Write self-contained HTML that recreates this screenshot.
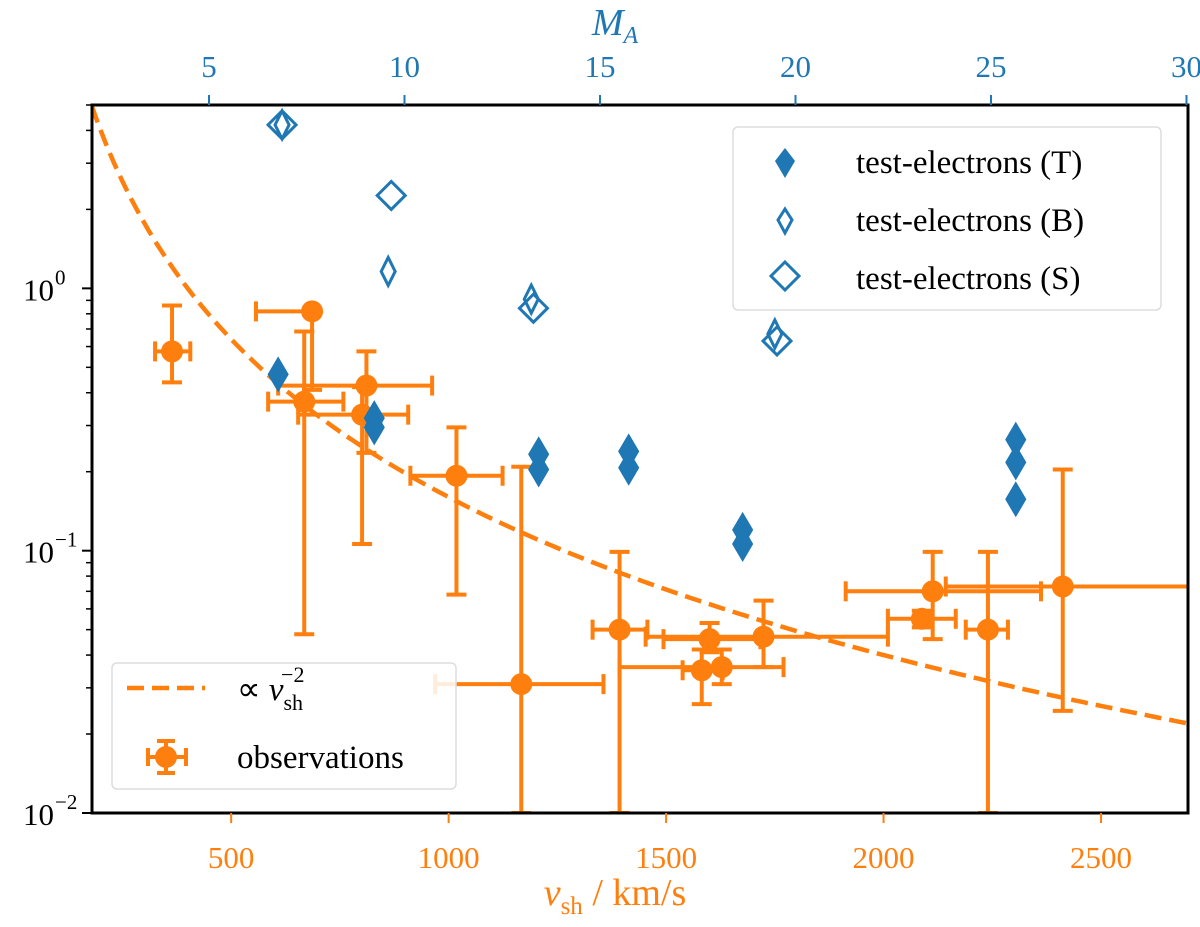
<!DOCTYPE html>
<html><head><meta charset="utf-8"><style>
body{margin:0;background:#fff}
svg text{font-family:"Liberation Serif",serif}
</style></head><body>
<svg id="chart" width="1200" height="922" xmlns="http://www.w3.org/2000/svg">
<rect width="1200" height="922" fill="#fff"/>
<g id="marks"></g>
<g id="axes"></g>
</svg>
<script>
const obsV   = [364,686,668,811,801,1018,1167,1393,1600,1724,1582,1628,2088,2113,2240,2412];
const obsY   = [0.575,0.817,0.37,0.426,0.33,0.193,0.031,0.050,0.046,0.047,0.035,0.036,0.055,0.070,0.050,0.073];
const obsXlo = [325,557,585,608,654,912,969,1331,1494,1453,1538,1393,2010,1913,2189,2143];
const obsXhi = [406,686,758,962,907,1124,1356,1457,1717,2010,1630,1770,2166,2362,2286,2750];
const obsYlo = [0.438,0.41,0.048,0.236,0.106,0.068,0.01,0.01,0.041,0.036,0.026,0.031,0.051,0.046,0.01,0.0245];
const obsYhi = [0.86,0.817,0.685,0.575,0.42,0.295,0.209,0.099,0.053,0.0645,0.042,0.042,0.059,0.099,0.099,0.204];
const tV = [608,829,829,1207,1207,1414,1414,1676,1676,2304,2304,2304];
const tY = [0.47,0.32,0.295,0.233,0.204,0.239,0.207,0.12,0.106,0.265,0.217,0.157];
const bV = [617,861,1190,1750];
const bY = [4.2,1.16,0.91,0.67];
const sV = [617,868,1195,1755];
const sY = [4.2,2.26,0.84,0.63];
const fitC = 160000;
const xTicks = [500,1000,1500,2000,2500];
const topTicks = [5,10,15,20,25,30];
const yDecades = [0,-1,-2];

const L=92,R=1188,T=105,B=813, XMIN=180,XMAX=2700, LMIN=-2, LMAX=Math.log10(5);
const sx=v=>L+(v-XMIN)/(XMAX-XMIN)*(R-L);
const sy=y=>B-(Math.log10(y)-LMIN)/(LMAX-LMIN)*(B-T);
const sm=m=>209+(m-5)*39.1;
const NS="http://www.w3.org/2000/svg";
const marks=document.getElementById('marks'), axes=document.getElementById('axes');
function mk(tag,attrs,parent){const e=document.createElementNS(NS,tag);for(const k in attrs)e.setAttribute(k,attrs[k]);parent.appendChild(e);return e;}
const OR="#ff7f0e", BL="#1f77b4";
const clip=mk('clipPath',{id:'pc'},marks);mk('rect',{x:L,y:T,width:R-L,height:B-T},clip);
const g=mk('g',{'clip-path':'url(#pc)'},marks);

let d='';for(let v=XMIN;v<=XMAX;v+=10){d+=(d?'L':'M')+sx(v).toFixed(1)+','+sy(fitC/(v*v)).toFixed(1);}
const fit=mk('path',{d:d,fill:'none',stroke:OR,'stroke-width':4.5,'stroke-dasharray':'17,8'},g);



obsV.forEach((v,i)=>{
 const og=mk('g',{},g);
 
 
 const x=sx(v),y=sy(obsY[i]);
 const x1=sx(obsXlo[i]),x2=sx(obsXhi[i]),y1=sy(obsYlo[i]),y2=sy(obsYhi[i]);
 const st={stroke:OR,'stroke-width':4};
 mk('line',Object.assign({x1:x1,x2:x2,y1:y,y2:y},st),og);
 mk('line',Object.assign({x1:x,x2:x,y1:y1,y2:y2},st),og);
 mk('line',Object.assign({x1:x1,x2:x1,y1:y-10,y2:y+10},st),og);
 mk('line',Object.assign({x1:x2,x2:x2,y1:y-10,y2:y+10},st),og);
 mk('line',Object.assign({x1:x-10,x2:x+10,y1:y1,y2:y1},st),og);
 mk('line',Object.assign({x1:x-10,x2:x+10,y1:y2,y2:y2},st),og);
 mk('circle',{cx:x,cy:y,r:11,fill:OR},og);
});
function diamond(x,y,w,h,fill,name,parent){
 const p=mk('polygon',{points:`${x},${y-h/2} ${x+w/2},${y} ${x},${y+h/2} ${x-w/2},${y}`,fill:fill?BL:'none',stroke:BL,'stroke-width':fill?1:3},parent);
 
 
 return p;
}
tV.forEach((v,i)=>diamond(sx(v),sy(tY[i]),20,34,true,'test-electron-t',g));
bV.forEach((v,i)=>diamond(sx(v),sy(bY[i]),14,28,false,'test-electron-b',g));
sV.forEach((v,i)=>diamond(sx(v),sy(sY[i]),28,28,false,'test-electron-s',g));

const fr=mk('rect',{x:L,y:T,width:R-L,height:B-T,fill:'none',stroke:'#000','stroke-width':3},axes);


xTicks.forEach(t=>{const x=sx(t);
 mk('line',{x1:x,x2:x,y1:B,y2:B+10,stroke:OR,'stroke-width':2},axes);
 const tx=mk('text',{x:x,y:B+55,'font-size':31,fill:OR,'text-anchor':'middle'},axes);tx.textContent=t;
 
 
});
topTicks.forEach(t=>{const x=sm(t);
 mk('line',{x1:x,x2:x,y1:T,y2:T-10,stroke:BL,'stroke-width':2},axes);
 const tx=mk('text',{x:x,y:T-28,'font-size':31,fill:BL,'text-anchor':'middle'},axes);tx.textContent=t;
 
 
});
yDecades.forEach(e=>{const y=sy(Math.pow(10,e));
 mk('line',{x1:L,x2:L-10,y1:y,y2:y,stroke:'#000','stroke-width':2},axes);
 const tx=mk('text',{x:L-38,y:y+12,'font-size':31,fill:'#000','text-anchor':'end'},axes);tx.textContent='10';
 
 
 const sp=mk('text',{x:L-37,y:y-4,'font-size':21,fill:'#000'},axes);sp.textContent=e===0?'0':'\u2212'+(-e);
});
for(let e=-2;e<1;e++)for(let k=2;k<10;k++){const v=k*Math.pow(10,e);if(v>5)continue;const y=sy(v);
 mk('line',{x1:L,x2:L-6,y1:y,y2:y,stroke:'#000','stroke-width':1.5},axes);}
</script>
<svg style="position:absolute;left:0;top:0" width="1200" height="922" xmlns="http://www.w3.org/2000/svg">
<text x="615" y="905" font-size="38" fill="#ff7f0e" text-anchor="middle" font-family="Liberation Serif, serif"><tspan font-style="italic">v</tspan><tspan font-size="25" dy="9">sh</tspan><tspan dy="-9"> / km/s</tspan></text>
<text x="615" y="35" font-size="38" fill="#1f77b4" text-anchor="middle" font-family="Liberation Serif, serif" font-style="italic">M<tspan font-size="24" dy="8">A</tspan></text>
<g>
<rect x="733" y="127" width="428" height="183" rx="5" fill="#fff" fill-opacity="0.85" stroke="#ddd" stroke-width="1.5"/>
<polygon points="785,148 795,161 785,178 775,161" fill="#1f77b4"/>
<polygon points="785,209 792,220 785,233 778,220" fill="none" stroke="#1f77b4" stroke-width="3"/>
<polygon points="785,262 799,276 785,290 771,276" fill="none" stroke="#1f77b4" stroke-width="3"/>
<text x="856" y="173" font-size="33" font-family="Liberation Serif, serif">test-electrons (T)</text>
<text x="856" y="231" font-size="33" font-family="Liberation Serif, serif">test-electrons (B)</text>
<text x="856" y="289" font-size="33" font-family="Liberation Serif, serif">test-electrons (S)</text>
</g>
<g>
<rect x="112" y="663" width="344" height="126" rx="5" fill="#fff" fill-opacity="0.85" stroke="#ddd" stroke-width="1.5"/>
<line x1="127" y1="688" x2="205" y2="688" stroke="#ff7f0e" stroke-width="4.5" stroke-dasharray="17,8"/>
<line x1="148" y1="757" x2="186" y2="757" stroke="#ff7f0e" stroke-width="4"/>
<line x1="166" y1="741" x2="166" y2="773" stroke="#ff7f0e" stroke-width="4"/>
<line x1="148" y1="748" x2="148" y2="766" stroke="#ff7f0e" stroke-width="4"/>
<line x1="186" y1="748" x2="186" y2="766" stroke="#ff7f0e" stroke-width="4"/>
<line x1="157" y1="741" x2="175" y2="741" stroke="#ff7f0e" stroke-width="4"/>
<line x1="157" y1="773" x2="175" y2="773" stroke="#ff7f0e" stroke-width="4"/>
<circle cx="166" cy="757" r="11" fill="#ff7f0e"/>
<text x="237" y="700" font-size="33" font-family="Liberation Serif, serif">∝ <tspan font-style="italic">v</tspan><tspan font-size="22" dy="10">sh</tspan><tspan font-size="22" dx="-22" dy="-28">−2</tspan></text>
<text x="237" y="768" font-size="33" font-family="Liberation Serif, serif">observations</text>
</g>
</svg>
</body></html>
